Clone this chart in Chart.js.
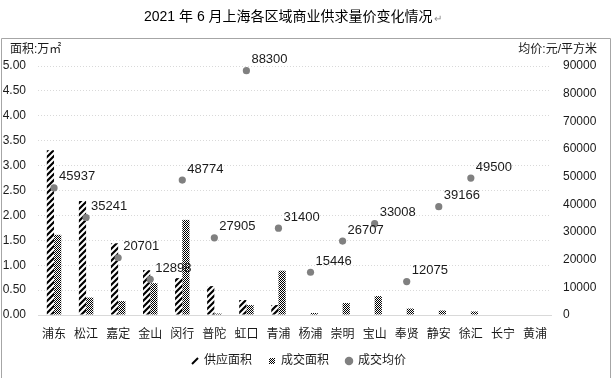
<!DOCTYPE html>
<html>
<head>
<meta charset="utf-8">
<script src="https://cdn.jsdelivr.net/npm/chart.js@4.4.1/dist/chart.umd.min.js"></script>
<style>
  html, body { margin: 0; padding: 0; background: #fff; }
  canvas { display: block; }
</style>
</head>
<body>
<canvas id="chart" width="614" height="378"></canvas>
<script>
const districts = ["浦东","松江","嘉定","金山","闵行","普陀","虹口","青浦","杨浦","崇明","宝山","奉贤","静安","徐汇","长宁","黄浦"];
const supplyArea = [3.31, 2.29, 1.44, 0.90, 0.74, 0.58, 0.30, 0.20, 0, 0, 0, 0, 0, 0, 0, 0];
const dealArea   = [1.61, 0.35, 0.28, 0.64, 1.91, 0.03, 0.20, 0.89, 0.04, 0.24, 0.38, 0.13, 0.09, 0.07, 0, 0];
const avgPrice   = [45937, 35241, 20701, 12898, 48774, 27905, 88300, 31400, 15446, 26707, 33008, 12075, 39166, 49500, null, null];

const FONT = "'Liberation Sans', 'Noto Sans CJK SC', sans-serif";
const TEXT = "#1a1a1a";

// fill patterns like the Excel ones
function stripePattern() {
    const c = document.createElement("canvas");
    c.width = 6; c.height = 6;
    const g = c.getContext("2d");
    g.fillStyle = "#fff";
    g.fillRect(0, 0, 6, 6);
    g.strokeStyle = "#000";
    g.lineWidth = 2.2;
    g.beginPath();
    g.moveTo(-1, 7); g.lineTo(7, -1);
    g.moveTo(-4, 4); g.lineTo(4, -4);
    g.moveTo(2, 10); g.lineTo(10, 2);
    g.stroke();
    return g.createPattern(c, "repeat");
}

function checkerPattern() {
    const c = document.createElement("canvas");
    c.width = 2; c.height = 2;
    const g = c.getContext("2d");
    g.fillStyle = "#fff";
    g.fillRect(0, 0, 2, 2);
    g.fillStyle = "#000";
    g.fillRect(0, 0, 1, 1);
    g.fillRect(1, 1, 1, 1);
    return g.createPattern(c, "repeat");
}

const stripes = stripePattern();
const checker = checkerPattern();

const framePlugin = {
    id: "frame",
    afterLayout(chart) {
        // nudge the legend row to where Excel put it
        const lg = chart.legend;
        lg.top -= 4; lg.bottom -= 4;
        lg.left -= 7; lg.right -= 7;
    },
    beforeDraw(chart) {
        const c = chart.ctx;
        c.save();
        c.strokeStyle = "#a6a6a6";
        c.lineWidth = 1;
        c.beginPath();
        c.moveTo(1.5, 378);
        c.lineTo(1.5, 38.5);
        c.lineTo(610.5, 38.5);
        c.lineTo(610.5, 378);
        c.stroke();

        // title (sits outside the frame)
        const title = "2021 年 6 月上海各区域商业供求量价变化情况";
        c.font = "14px " + FONT;
        c.fillStyle = "#000";
        c.textBaseline = "middle";
        c.textAlign = "left";
        c.fillText(title, 144, 17);
        const w = c.measureText(title).width;
        c.font = "10px " + FONT;
        c.fillStyle = "#8a8a8a";
        c.fillText("↵", 144 + w + 1, 19);

        // axis titles
        c.font = "12px " + FONT;
        c.fillStyle = TEXT;
        c.textAlign = "left";
        c.fillText("面积:万㎡", 10, 50);
        c.textAlign = "right";
        c.fillText("均价:元/平方米", 597, 50);
        c.restore();
    }
};

const priceLabels = {
    id: "priceLabels",
    afterDatasetsDraw(chart) {
        const c = chart.ctx;
        const meta = chart.getDatasetMeta(2);
        c.save();
        c.font = "13px " + FONT;
        c.fillStyle = TEXT;
        c.textAlign = "left";
        c.textBaseline = "middle";
        meta.data.forEach((pt, i) => {
            const v = avgPrice[i];
            if (v == null) return;
            c.fillText(String(v), pt.x + 5, pt.y - 11);
        });
        c.restore();
    }
};

const ctx = document.getElementById("chart");

const chart = new Chart(ctx, {
    data: {
        labels: districts,
        datasets: [
        {
            type: "bar",
            label: "供应面积",
            data: supplyArea,
            backgroundColor: stripes,
            borderWidth: 0,
            yAxisID: "y",
            order: 1
        },
        {
            type: "bar",
            label: "成交面积",
            data: dealArea,
            backgroundColor: checker,
            borderWidth: 0,
            yAxisID: "y",
            order: 1
        },
        {
            type: "line",
            label: "成交均价",
            data: avgPrice,
            showLine: false,
            pointRadius: 3.6,
            pointBackgroundColor: "#808080",
            pointBorderWidth: 0,
            backgroundColor: "#808080",
            yAxisID: "y2",
            order: 0
        }]
    },
    options: {
        responsive: false,
        animation: false,
        categoryPercentage: 0.45,
        barPercentage: 1,
        layout: { padding: { left: 1, right: 3, top: 66, bottom: 1 } },
        plugins: {
            title: { display: false },
            tooltip: { enabled: false },
            legend: {
                position: "bottom",
                maxHeight: 35,
                labels: {
                    usePointStyle: true,
                    boxWidth: 6,
                    boxHeight: 6,
                    padding: 17,
                    color: TEXT,
                    font: { family: FONT, size: 12 },
                    generateLabels: () => [
                        { text: "供应面积", pointStyle: "line", rotation: -45, strokeStyle: "#000", fillStyle: "#000", lineWidth: 2, fontColor: TEXT, datasetIndex: 0 },
                        { text: "成交面积", pointStyle: "rect", rotation: 0, strokeStyle: "rgba(0,0,0,0)", fillStyle: checker, lineWidth: 0, fontColor: TEXT, datasetIndex: 1 },
                        { text: "成交均价", pointStyle: "circle", rotation: 0, strokeStyle: "rgba(0,0,0,0)", fillStyle: "#808080", lineWidth: 0, fontColor: TEXT, datasetIndex: 2 }
                    ]
                }
            }
        },
        scales: {
            x: {
                grid: { display: false, drawTicks: false },
                border: { color: "#d9d9d9", width: 1 },
                ticks: { color: TEXT, padding: 12, font: { family: FONT, size: 12 }, maxRotation: 0, autoSkip: false },
                afterFit(s) { s.height = 27; }
            },
            y: {
                position: "left",
                min: 0,
                max: 5,
                ticks: {
                    stepSize: 0.5,
                    padding: 12,
                    color: TEXT,
                    font: { family: FONT, size: 12 },
                    callback: v => v.toFixed(2)
                },
                grid: { color: "#d9d9d9", drawTicks: false },
                border: { display: false, dash: [1, 2] },
                afterFit(s) { s.width = 37; }
            },
            y2: {
                position: "right",
                min: 0,
                max: 90000,
                ticks: {
                    stepSize: 10000,
                    padding: 12,
                    color: TEXT,
                    font: { family: FONT, size: 12 },
                    callback: v => String(v)
                },
                grid: { display: false, drawTicks: false },
                border: { display: false },
                afterFit(s) { s.width = 60; }
            }
        }
    },
    plugins: [framePlugin, priceLabels]
});
</script>
</body>
</html>
